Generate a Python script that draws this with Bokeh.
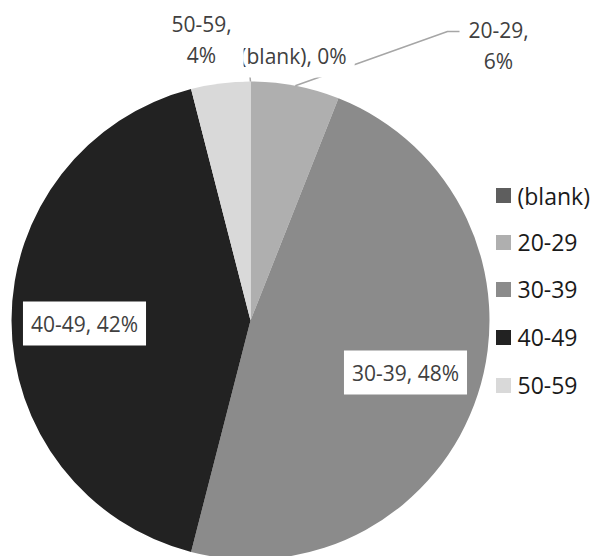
import math
from bokeh.plotting import figure
from bokeh.models import Range1d, ColumnDataSource
from bokeh.core.properties import value
from bokeh.embed import file_html
from bokeh.resources import INLINE

# ---- data ----
categories = ["(blank)", "20-29", "30-39", "40-49", "50-59"]
percents = [0, 6, 48, 42, 4]

# ---- style / layout ----
colors = ["#5e5e5e", "#afafaf", "#8b8b8b", "#222222", "#d9d9d9"]
W, H = 593, 556
CX, CY, R = 250, H - 320, 239
FONT = "Open Sans"

def py(v):
    return H - v

p = figure(width=W, height=H, x_range=Range1d(0, W), y_range=Range1d(0, H),
           output_backend="svg", toolbar_location=None,
           x_axis_location=None, y_axis_location=None,
           min_border=0, min_border_left=0, min_border_right=0,
           min_border_top=0, min_border_bottom=0)
p.grid.visible = False
p.outline_line_color = None
p.background_fill_color = "white"
p.border_fill_color = "white"

total = float(sum(percents))
starts, ends, mids = [], [], []
cum = 0.0
for v in percents:
    a0 = math.pi / 2 - 2 * math.pi * cum / total
    cum += v
    a1 = math.pi / 2 - 2 * math.pi * cum / total
    starts.append(a0)
    ends.append(a1)
    mids.append((a0 + a1) / 2)

nz = [i for i, v in enumerate(percents) if v > 0]
wsrc = ColumnDataSource(dict(
    start=[starts[i] for i in nz], end=[ends[i] for i in nz],
    color=[colors[i] for i in nz]))
p.wedge(x=CX, y=CY, radius=R, start_angle="start", end_angle="end",
        direction="clock", fill_color="color", line_color=None, source=wsrc)

# leader lines for outside labels: start on arc at slice middle
leader_ends = {0: [(249, 72)], 1: [(447, 31), (459, 31)]}
lxs, lys = [], []
for i, pts in leader_ends.items():
    sx = CX + R * math.cos(mids[i])
    sy = CY + R * math.sin(mids[i])
    lxs.append([sx] + [q[0] for q in pts])
    lys.append([sy] + [py(q[1]) for q in pts])
p.multi_line(xs=lxs, ys=lys, line_color="#a6a6a6", line_width=1.5)

# data labels
label_pos = [(293, 55), (498, 45), (405, 372), (84, 323), (201, 39)]
label_pad = [8, 8, 8, 8, 12]
label_text = []
for c, v in zip(categories, percents):
    if c in ("20-29", "50-59"):
        label_text.append(f"{c},\n{v}%")
    else:
        label_text.append(f"{c}, {v}%")
for i in range(len(categories)):
    p.text(x=[label_pos[i][0]], y=[py(label_pos[i][1])], text=[label_text[i]],
           text_align="center", text_baseline="middle", text_font=value(FONT),
           text_font_size="21px", text_color="#404040", text_line_height=1.14,
           background_fill_color="white", padding=label_pad[i])

# legend
leg_y = [195, 242, 289, 337, 385]
p.scatter(x=[503] * len(categories), y=[py(v) for v in leg_y], marker="square",
          size=15, fill_color=colors, line_color=None)
p.text(x=[517] * len(categories), y=[py(v) for v in leg_y], text=categories,
       text_align="left", text_baseline="middle", text_font=value(FONT),
       text_font_size="23px", text_color="#1a1a1a")

open("out.html", "w").write(file_html(p, INLINE))
